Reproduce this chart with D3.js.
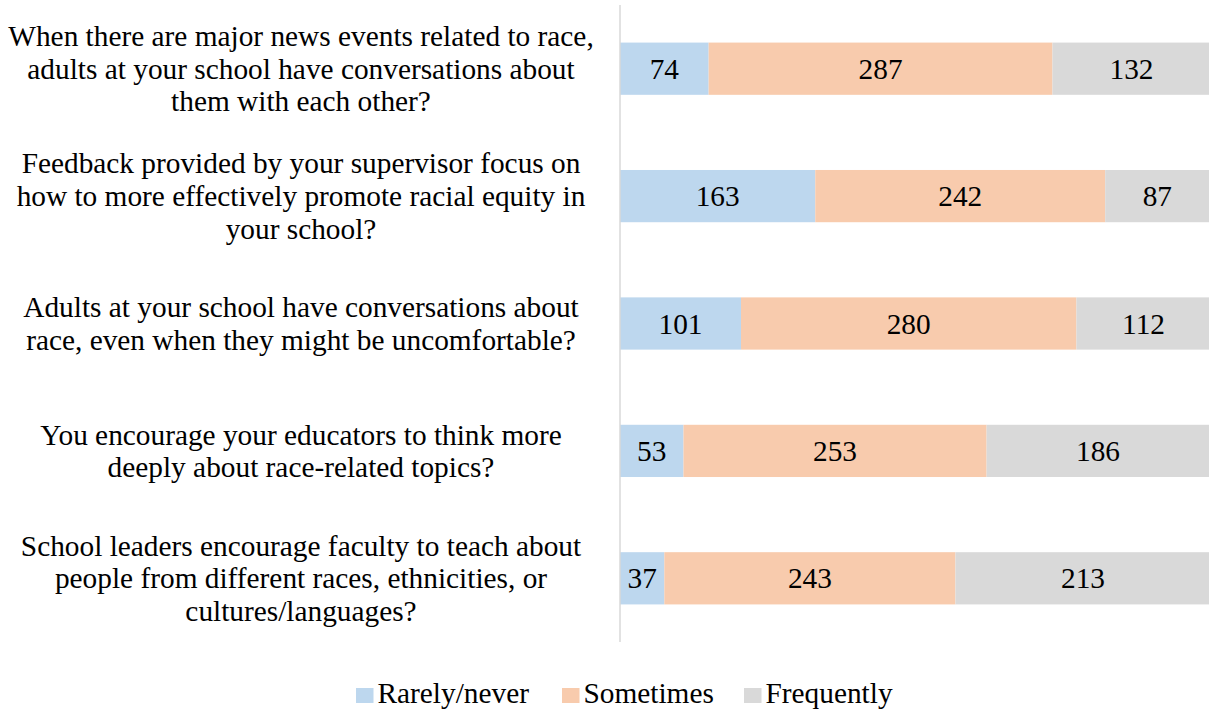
<!DOCTYPE html>
<html>
<head>
<meta charset="utf-8">
<script src="https://cdn.jsdelivr.net/npm/d3@7"></script>
</head>
<body style="margin:0">
<svg id="chart" width="1209" height="710"></svg>
<script>
// Survey questions, each split into the lines it is set in
const questions = [
  ["When there are major news events related to race,", "adults at your school have conversations about", "them with each other?"],
  ["Feedback provided by your supervisor focus on", "how to more effectively promote racial equity in", "your school?"],
  ["Adults at your school have conversations about", "race, even when they might be uncomfortable?"],
  ["You encourage your educators to think more", "deeply about race-related topics?"],
  ["School leaders encourage faculty to teach about", "people from different races, ethnicities, or", "cultures/languages?"]
];
const seriesNames = ["Rarely/never", "Sometimes", "Frequently"];
const rarely     = [74, 163, 101, 53, 37];
const sometimes  = [287, 242, 280, 253, 243];
const frequently = [132, 87, 112, 186, 213];
const colors = ["#BDD7EE", "#F8CBAD", "#D9D9D9"];

const FONT = '"Liberation Serif", "Times New Roman"';
const FONT_SIZE = 29.33;

const svg = d3.select("#chart");
const plot = { left: 620, right: 1219, top: 5, bottom: 642 };

const rows = questions.map((q, i) => ({
  idx: i,
  lines: q,
  "Rarely/never": rarely[i],
  "Sometimes": sometimes[i],
  "Frequently": frequently[i]
}));

const stacked = d3.stack().keys(seriesNames)(rows);

const x = d3.scaleLinear().domain([0, 500]).range([plot.left, plot.right]);
const y = d3.scaleBand()
  .domain(rows.map(d => d.idx))
  .range([plot.top, plot.bottom])
  .paddingInner(0.59)
  .paddingOuter(0.295);
const color = d3.scaleOrdinal().domain(seriesNames).range(colors);

// Bars
svg.append("g").selectAll("g")
  .data(stacked).join("g")
  .attr("fill", d => color(d.key))
  .selectAll("rect")
  .data(d => d)
  .join("rect")
  .attr("x", d => x(d[0]))
  .attr("y", d => y(d.data.idx))
  .attr("width", d => x(d[1]) - x(d[0]))
  .attr("height", y.bandwidth());

// Value labels centred in each segment
svg.append("g").selectAll("text")
  .data(stacked.flatMap(s => s.map(v => ({ key: s.key, v }))))
  .join("text")
  .attr("x", d => (x(d.v[0]) + x(d.v[1])) / 2)
  .attr("y", d => y(d.v.data.idx) + y.bandwidth() / 2 + 10)
  .attr("text-anchor", "middle")
  .attr("font-size", FONT_SIZE)
  .attr("fill", "#000")
  .style("font-family", FONT)
  .text(d => d.v.data[d.key]);

// Category axis line
svg.append("line")
  .attr("x1", plot.left).attr("x2", plot.left)
  .attr("y1", plot.top).attr("y2", plot.bottom)
  .attr("stroke", "#D9D9D9")
  .attr("stroke-width", 1.5);

// Category labels: one text per line, the block centred on its bar
const lineH = 32.7;
const labelLines = rows.flatMap(r => r.lines.map((t, i) => ({
  t,
  cy: y(r.idx) + y.bandwidth() / 2 + (i - (r.lines.length - 1) / 2) * lineH
})));
svg.append("g").selectAll("text")
  .data(labelLines)
  .join("text")
  .attr("x", 301)
  .attr("y", d => d.cy + 10)
  .attr("text-anchor", "middle")
  .attr("font-size", FONT_SIZE)
  .attr("fill", "#000")
  .style("font-family", FONT)
  .text(d => d.t);

// Legend
const legendItems = [
  { name: seriesNames[0], x: 356 },
  { name: seriesNames[1], x: 562 },
  { name: seriesNames[2], x: 744 }
];
const legend = svg.append("g").selectAll("g")
  .data(legendItems).join("g")
  .attr("transform", d => `translate(${d.x},703)`);
legend.append("rect")
  .attr("x", 0).attr("y", -15)
  .attr("width", 17.5).attr("height", 15)
  .attr("fill", d => color(d.name));
legend.append("text")
  .attr("x", 21.5).attr("y", 0)
  .attr("font-size", FONT_SIZE)
  .attr("fill", "#000")
  .style("font-family", FONT)
  .text(d => d.name);
</script>
</body>
</html>
